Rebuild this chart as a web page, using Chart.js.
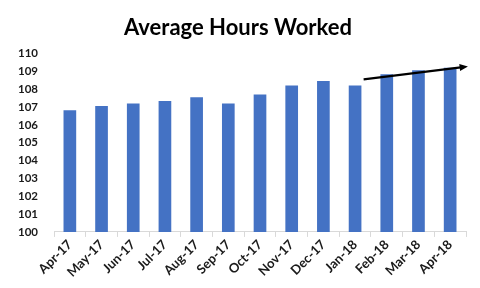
<!DOCTYPE html>
<html>
<head>
<meta charset="utf-8">
<script src="https://cdn.jsdelivr.net/npm/chart.js@4"></script>
<style>
  html, body { margin: 0; padding: 0; background: #fff; }
  #wrap { width: 480px; height: 288px; }
</style>
</head>
<body>
<div id="wrap"><canvas id="hoursChart"></canvas></div>
<script>
const months = ["Apr-17", "May-17", "Jun-17", "Jul-17", "Aug-17", "Sep-17", "Oct-17",
  "Nov-17", "Dec-17", "Jan-18", "Feb-18", "Mar-18", "Apr-18"];
const hours = [106.82, 107.05, 107.2, 107.34, 107.55, 107.2, 107.7,
  108.2, 108.45, 108.2, 108.83, 109.05, 109.2];
const yTicks = [100, 101, 102, 103, 104, 105, 106, 107, 108, 109, 110];
// trend arrow, in category index / value units
const trendFrom = [9.27, 108.55];
const trendTo = [12.56, 109.27];

/* draws the black trend arrow over the bars */
const trendArrow = {
  id: "trendArrow",
  afterDatasetsDraw(chart) {
    const { ctx, scales: { x, y } } = chart;
    const x1 = x.getPixelForValue(trendFrom[0]), y1 = y.getPixelForValue(trendFrom[1]);
    const x2 = x.getPixelForValue(trendTo[0]), y2 = y.getPixelForValue(trendTo[1]);
    const ang = Math.atan2(y2 - y1, x2 - x1);
    const head = 9;
    ctx.save();
    ctx.strokeStyle = "#000";
    ctx.fillStyle = "#000";
    ctx.lineWidth = 2.2;
    ctx.beginPath();
    ctx.moveTo(x1, y1);
    ctx.lineTo(x2 - Math.cos(ang) * head * 0.8, y2 - Math.sin(ang) * head * 0.8);
    ctx.stroke();
    ctx.beginPath();
    ctx.moveTo(x2, y2);
    ctx.lineTo(x2 - head * Math.cos(ang - 0.4), y2 - head * Math.sin(ang - 0.4));
    ctx.lineTo(x2 - head * Math.cos(ang + 0.4), y2 - head * Math.sin(ang + 0.4));
    ctx.closePath();
    ctx.fill();
    ctx.restore();
  }
};

new Chart(document.getElementById("hoursChart"), {
  type: "bar",
  data: {
    labels: months,
    datasets: [{
      label: "Average Hours Worked",
      data: hours,
      backgroundColor: "#4472C4",
      borderWidth: 0,
      categoryPercentage: 1,
      barPercentage: 0.4
    }]
  },
  options: {
    responsive: true,
    maintainAspectRatio: false,
    animation: false,
    layout: { padding: { left: 10, right: 14, top: 6, bottom: 8 } },
    plugins: {
      legend: { display: false },
      tooltip: { enabled: false },
      title: {
        display: true,
        text: "Average Hours Worked",
        color: "#000",
        font: { family: "Lato", size: 22, weight: "bold" },
        padding: { top: 9, bottom: 12 }
      }
    },
    scales: {
      x: {
        grid: {
          display: true,
          drawOnChartArea: false,
          offset: true,
          color: "#D9D9D9",
          tickLength: 5
        },
        border: { color: "#D9D9D9", width: 1 },
        ticks: {
          color: "#1a1a1a",
          font: { family: "Lato", size: 13, weight: "bold" },
          maxRotation: 45,
          minRotation: 45,
          autoSkip: false,
          padding: 0
        }
      },
      y: {
        min: yTicks[0],
        max: yTicks[yTicks.length - 1],
        afterBuildTicks(axis) { axis.ticks = yTicks.map(v => ({ value: v })); },
        grid: { display: false },
        border: { display: false },
        ticks: {
          color: "#1a1a1a",
          font: { family: "Lato", size: 11.5, weight: "bold" },
          padding: 8
        }
      }
    }
  },
  plugins: [trendArrow]
});
</script>
</body>
</html>
